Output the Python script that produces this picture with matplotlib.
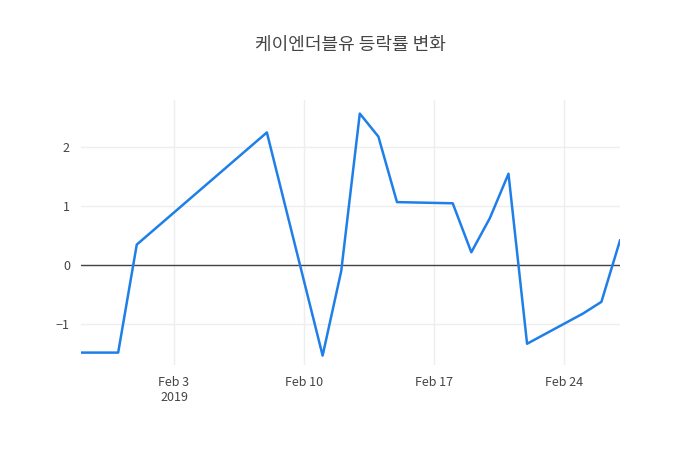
import matplotlib
matplotlib.use("Agg")
import matplotlib.pyplot as plt
import matplotlib.dates as mdates
import pandas as pd

plt.rcParams['font.family'] = ['Noto Sans CJK KR', 'DejaVu Sans']

dates = ["2019-01-29","2019-01-31","2019-02-01","2019-02-08","2019-02-11","2019-02-12",
         "2019-02-13","2019-02-14","2019-02-15","2019-02-18","2019-02-19","2019-02-20",
         "2019-02-21","2019-02-22","2019-02-25","2019-02-26","2019-02-27"]
values = [-1.48,-1.48,0.35,2.25,-1.53,-0.1,2.57,2.18,1.07,1.05,0.22,0.8,1.55,-1.33,-0.82,-0.62,0.42]
title = "케이엔더블유 등락률 변화"

x = pd.to_datetime(dates)
fig = plt.figure(figsize=(7, 4.5), dpi=100)
ax = fig.add_axes([81/700, 1-365/450, (620-81)/700, 265/450])
ax.plot(x, values, color="#1f7fe8", lw=1.8, zorder=3)
ax.axhline(0, color="#444444", lw=1, zorder=2)
ax.set_xlim(x[0], x[-1])
ax.set_ylim(-1.69, 2.8)
ax.set_yticks([-1, 0, 1, 2])
ax.set_yticklabels(["−1", "0", "1", "2"])
ticks = pd.to_datetime(["2019-02-03", "2019-02-10", "2019-02-17", "2019-02-24"])
ax.set_xticks(ticks)
ax.set_xticklabels(["Feb 3\n2019", "Feb 10", "Feb 17", "Feb 24"])
ax.grid(True, color="#eeeeee", lw=1)
for s in ax.spines.values():
    s.set_visible(False)
ax.tick_params(length=0, colors="#444444", labelsize=9, pad=8)
for lbl in ax.get_xticklabels():
    lbl.set_verticalalignment("top")
fig.text(350/700, 1-45/450, title, ha="center", va="center", fontsize=13, color="#444444")
fig.savefig("out.png", dpi=100)
